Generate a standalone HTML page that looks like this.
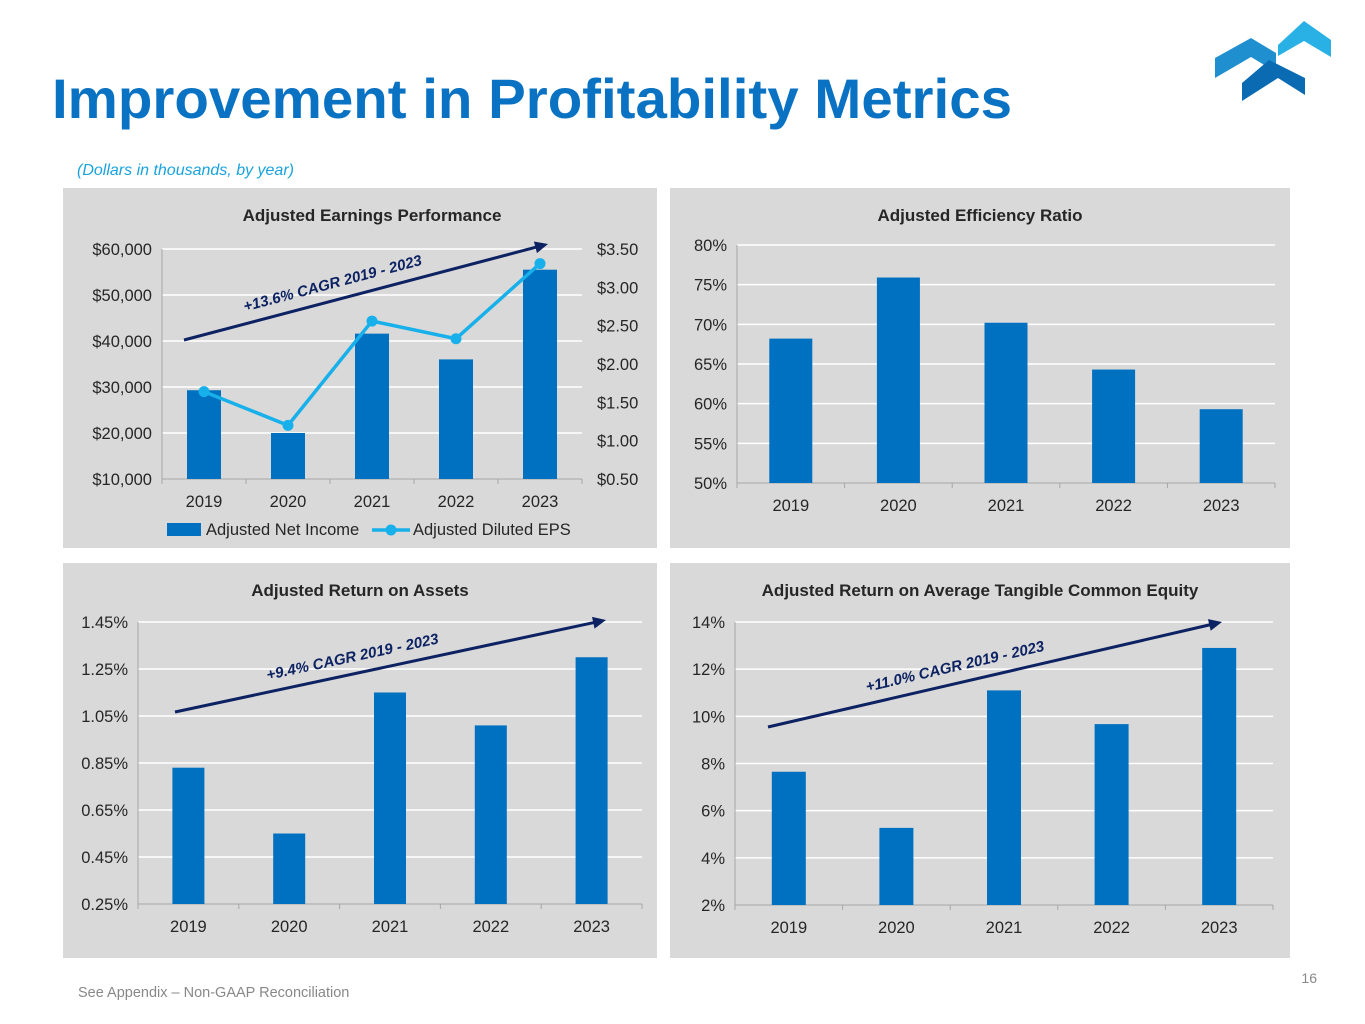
<!DOCTYPE html>
<html><head><meta charset="utf-8"><style>
body{margin:0;width:1365px;height:1024px;background:#fff;position:relative;overflow:hidden;font-family:"Liberation Sans",sans-serif}
svg{position:absolute;left:0;top:0}
</style></head><body>
<svg id="s" width="1365" height="1024" xmlns="http://www.w3.org/2000/svg" font-family="Liberation Sans, sans-serif">
<text x="52" y="118" font-size="56" font-weight="bold" fill="#0a72c2" textLength="960" lengthAdjust="spacingAndGlyphs">Improvement in Profitability Metrics</text>
<text x="77" y="175" font-size="16" font-style="italic" fill="#1aa3dc">(Dollars in thousands, by year)</text>
<g>
<polygon points="1215,58 1251,38 1276,53 1276,72 1251,57 1215,78" fill="#1f8fd0"/>
<polygon points="1278,45 1304,21 1331,40 1331,57 1304,41 1278,56" fill="#29b1e6"/>
<polygon points="1242,83 1269,60 1305,78 1305,95 1278,78 1242,101" fill="#0a6bb3"/>
</g>
<text x="78" y="997" font-size="14.5" fill="#888">See Appendix – Non-GAAP Reconciliation</text>
<text x="1317" y="983" font-size="14" fill="#888" text-anchor="end">16</text>
</svg>
<script>
const years=["2019","2020","2021","2022","2023"];
const netIncome=[29300,20000,41600,36000,55500];
const eps=[1.64,1.20,2.56,2.33,3.31];
const niTicks=[10000,20000,30000,40000,50000,60000];
const epsTicks=[0.5,1,1.5,2,2.5,3,3.5];
const effRatio=[68.2,75.9,70.2,64.3,59.3];
const effTicks=[50,55,60,65,70,75,80];
const roa=[0.83,0.55,1.15,1.01,1.30];
const roaTicks=[0.25,0.45,0.65,0.85,1.05,1.25,1.45];
const rotce=[7.65,5.27,11.1,9.67,12.9];
const rotceTicks=[2,4,6,8,10,12,14];
const svg=document.getElementById('s');
const NS="http://www.w3.org/2000/svg";
function el(t,a,p){const e=document.createElementNS(NS,t);for(const k in a)e.setAttribute(k,a[k]);(p||svg).appendChild(e);return e;}
function txt(s,a,p){const e=el('text',a,p);e.textContent=s;return e;}
function chart(o){
  const g=el('g',{});
  
  
  const bg=el('rect',{x:o.px,y:o.py,width:o.pw,height:o.ph,fill:'#d9d9d9'},g);
  
  
  const t=txt(o.title,{x:o.tx,y:o.py+33,'font-size':17,'font-weight':'bold',fill:'#262626','text-anchor':'middle'},g);
  
  
  const lo=o.ticks[0],hi=o.ticks[o.ticks.length-1];
  const y=v=>o.y1+(o.y0-o.y1)*(v-lo)/(hi-lo);
  const cw=(o.x1-o.x0)/o.cats.length;
  const xc=i=>o.x0+cw*(i+0.5);
  o.ticks.forEach(v=>{
    if(v!==lo){const l=el('line',{x1:o.x0,x2:o.x1,y1:y(v),y2:y(v),stroke:'#fff','stroke-width':1.5},g);
    }
    const tl=txt(o.fmt(v),{x:o.x0-10,y:y(v)+6,'font-size':16.5,fill:'#262626','text-anchor':'end'},g);
    
  });
  el('line',{x1:o.x0,x2:o.x0,y1:o.y0,y2:o.y1,stroke:'#a6a6a6'},g);
  el('line',{x1:o.x0,x2:o.x1,y1:o.y1,y2:o.y1,stroke:'#a6a6a6'},g);
  for(let i=0;i<=o.cats.length;i++)el('line',{x1:o.x0+cw*i,x2:o.x0+cw*i,y1:o.y1,y2:o.y1+5,stroke:'#a6a6a6'},g);
  o.cats.forEach((c,i)=>{
    const r=el('rect',{x:xc(i)-o.bw/2,y:y(o.vals[i]),width:o.bw,height:o.y1-y(o.vals[i]),fill:'#0070c0'},g);
    
    
    const xl=txt(c,{x:xc(i),y:o.y1+28,'font-size':16.5,fill:'#262626','text-anchor':'middle'},g);
    
    
  });
  if(o.arrow){
    const [ax0,ay0,ax1,ay1]=o.arrow;
    const ang=Math.atan2(ay1-ay0,ax1-ax0);
    const a=el('line',{x1:ax0,y1:ay0,x2:ax1-10*Math.cos(ang),y2:ay1-10*Math.sin(ang),stroke:'#0d2262','stroke-width':3},g);
    
    const hx=ax1,hy=ay1,c=Math.cos(ang),s=Math.sin(ang);
    el('polygon',{points:`${hx},${hy} ${hx-13*c+6*s},${hy-13*s-6*c} ${hx-13*c-6*s},${hy-13*s+6*c}`,fill:'#0d2262'},g);
    const mx=ax0+(ax1-ax0)*0.42,my=ay0+(ay1-ay0)*0.42;
    const at=txt(o.arrowText,{x:mx,y:my-12,'font-size':15,'font-weight':'bold','font-style':'italic',fill:'#0d2262','text-anchor':'middle',transform:`rotate(${ang*180/Math.PI} ${mx} ${my})`},g);
    
  }
  return {g,xc,y};
}
const c1=chart({name:'earnings-chart',px:63,py:188,pw:594,ph:360,tx:372,title:'Adjusted Earnings Performance',x0:162,x1:582,y0:249,y1:479,bw:34,cats:years,vals:netIncome,ticks:niTicks,fmt:v=>'$'+v.toLocaleString('en-US'),arrow:[184,340,548,244],arrowText:'+13.6% CAGR 2019 - 2023'});
const ey=v=>479+(249-479)*(v-0.5)/(3.5-0.5);
epsTicks.forEach(v=>{const t=txt('$'+v.toFixed(2),{x:597,y:ey(v)+6,'font-size':16.5,fill:'#262626'},c1.g);
});
const pts=eps.map((v,i)=>c1.xc(i)+','+ey(v)).join(' ');
const pl=el('polyline',{points:pts,fill:'none',stroke:'#18b0ea','stroke-width':3.5},c1.g);

eps.forEach((v,i)=>{const c=el('circle',{cx:c1.xc(i),cy:ey(v),r:5.5,fill:'#18b0ea'},c1.g);
});
const lg=el('g',{},c1.g);

el('rect',{x:167,y:523,width:34,height:13,fill:'#0070c0'},lg);
txt('Adjusted Net Income',{x:206,y:535,'font-size':16.5,fill:'#262626'},lg);
el('line',{x1:372,x2:410,y1:530,y2:530,stroke:'#18b0ea','stroke-width':3.5},lg);
el('circle',{cx:391,cy:530,r:5.5,fill:'#18b0ea'},lg);
txt('Adjusted Diluted EPS',{x:413,y:535,'font-size':16.5,fill:'#262626'},lg);

chart({name:'efficiency-chart',px:670,py:188,pw:620,ph:360,tx:980,title:'Adjusted Efficiency Ratio',x0:737,x1:1275,y0:245,y1:483,bw:43,cats:years,vals:effRatio,ticks:effTicks,fmt:v=>v+'%'});
chart({name:'roa-chart',px:63,py:563,pw:594,ph:395,tx:360,title:'Adjusted Return on Assets',x0:138,x1:642,y0:622,y1:904,bw:32,cats:years,vals:roa,ticks:roaTicks,fmt:v=>v.toFixed(2)+'%',arrow:[175,712,606,620],arrowText:'+9.4% CAGR 2019 - 2023'});
chart({name:'rotce-chart',px:670,py:563,pw:620,ph:395,tx:980,title:'Adjusted Return on Average Tangible Common Equity',x0:735,x1:1273,y0:622,y1:905,bw:34,cats:years,vals:rotce,ticks:rotceTicks,fmt:v=>v+'%',arrow:[768,727,1222,622],arrowText:'+11.0% CAGR 2019 - 2023'});
</script>
</body></html>
